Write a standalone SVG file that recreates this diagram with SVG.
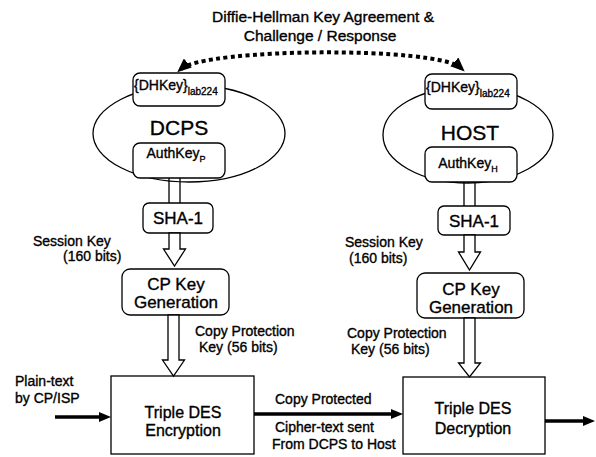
<svg xmlns="http://www.w3.org/2000/svg" width="596" height="457" viewBox="0 0 596 457">
  <style>
    text { font-family: "Liberation Sans", Arial, sans-serif; fill: #000; stroke: #000; stroke-width: 0.35; }
    .big { font-size: 21px; }
    .box { font-size: 17px; }
    .des { font-size: 16px; }
    .key { font-size: 14px; }
    .lbl { font-size: 14px; }
    .title { font-size: 15.5px; }
    .shape { fill: #fff; stroke: #000; stroke-width: 1.3; }
    .pipe { fill: none; stroke: #000; stroke-width: 1.3; }
    .hollow { fill: #fff; stroke: #000; stroke-width: 1.3; stroke-linejoin: miter; }
    .flow { fill: none; stroke: #000; stroke-width: 3.5; }
    .dots { fill: none; stroke: #000; stroke-width: 4; stroke-dasharray: 4 3.4; }
  </style>
  <defs>
    <marker id="solid" markerUnits="userSpaceOnUse" markerWidth="12" markerHeight="10" refX="4" refY="5" orient="auto">
      <path d="M0,0 L12,5 L0,10 z" fill="#000"/>
    </marker>
    <marker id="dotHead" markerUnits="userSpaceOnUse" markerWidth="14" markerHeight="12" refX="9" refY="6" orient="auto-start-reverse">
      <path d="M0,0 L14,6 L0,12 z" fill="#000"/>
    </marker>
  </defs>

  <!-- heading -->
  <g id="heading">
    <text class="title" x="323" y="22" text-anchor="middle">Diffie-Hellman Key Agreement &amp;</text>
    <text class="title" x="320" y="41" text-anchor="middle">Challenge / Response</text>
  </g>

  <!-- DCPS side -->
  <g id="dcps">
    <ellipse class="shape" cx="189" cy="133.5" rx="96" ry="48.5"/>
    <text class="big" x="179" y="135" text-anchor="middle">DCPS</text>
  </g>
  <g id="dcps-dhkey">
    <rect class="shape" x="133" y="73" width="92" height="33" rx="7"/>
    <text class="key" x="134" y="90">{DHKey}<tspan font-size="10" dy="5">lab224</tspan></text>
  </g>
  <g id="dcps-authkey">
    <rect class="shape" x="133" y="143" width="92" height="35" rx="7"/>
    <text class="key" x="176" y="158" text-anchor="middle">AuthKey<tspan font-size="9" dy="4">P</tspan></text>
  </g>
  <g id="dcps-sha1">
    <rect class="shape" x="143" y="203" width="70" height="30" rx="6"/>
    <text class="box" x="178" y="224" text-anchor="middle">SHA-1</text>
  </g>
  <g id="dcps-cpkey">
    <rect class="shape" x="122" y="269" width="107" height="46" rx="8"/>
    <text class="box" x="176" y="290" text-anchor="middle">CP Key</text>
    <text class="box" x="176" y="308" text-anchor="middle">Generation</text>
  </g>
  <g id="encryption">
    <rect class="shape" x="111" y="376" width="143" height="78"/>
    <text class="des" x="183" y="418" text-anchor="middle">Triple DES</text>
    <text class="des" x="183" y="436" text-anchor="middle">Encryption</text>
  </g>

  <!-- HOST side -->
  <g id="host">
    <ellipse class="shape" cx="468" cy="135" rx="85" ry="48"/>
    <text class="big" x="470" y="140" text-anchor="middle">HOST</text>
  </g>
  <g id="host-dhkey">
    <rect class="shape" x="425" y="74" width="92" height="35" rx="7"/>
    <text class="key" x="426" y="92">{DHKey}<tspan font-size="10" dy="5">lab224</tspan></text>
  </g>
  <g id="host-authkey">
    <rect class="shape" x="425" y="147" width="92" height="35" rx="7"/>
    <text class="key" x="468" y="168" text-anchor="middle">AuthKey<tspan font-size="9" dy="4">H</tspan></text>
  </g>
  <g id="host-sha1">
    <rect class="shape" x="438" y="206" width="72" height="29" rx="6"/>
    <text class="box" x="474" y="227" text-anchor="middle">SHA-1</text>
  </g>
  <g id="host-cpkey">
    <rect class="shape" x="417" y="273" width="107" height="45" rx="8"/>
    <text class="box" x="471" y="295" text-anchor="middle">CP Key</text>
    <text class="box" x="471" y="313" text-anchor="middle">Generation</text>
  </g>
  <g id="decryption">
    <rect class="shape" x="403" y="377" width="142" height="77"/>
    <text class="des" x="473" y="414" text-anchor="middle">Triple DES</text>
    <text class="des" x="473" y="434" text-anchor="middle">Decryption</text>
  </g>

  <!-- connectors -->
  <g id="connectors">
    <!-- key agreement exchange -->
    <path class="dots" d="M181,69 C205,48 437,46 461,68" marker-start="url(#dotHead)" marker-end="url(#dotHead)"/>

    <!-- DCPS key pipeline -->
    <path class="pipe" d="M169,178 V203 M180,178 V203"/>
    <polygon class="hollow" points="169,233 169,249 163.5,249 174.5,266 185.5,249 180,249 180,233"/>
    <polygon class="hollow" points="168,315 168,360 162.5,360 173.5,376 184.5,360 179,360 179,315"/>

    <!-- HOST key pipeline -->
    <path class="pipe" d="M464,182 V206 M475,182 V206"/>
    <polygon class="hollow" points="464,235 464,252 458.5,252 469.5,270 480.5,252 475,252 475,235"/>
    <polygon class="hollow" points="464,318 464,363 458.5,363 469.5,377 480.5,363 475,363 475,318"/>

    <!-- data path -->
    <line class="flow" x1="55" y1="417" x2="103" y2="417" marker-end="url(#solid)"/>
    <line class="flow" x1="254" y1="414" x2="395" y2="414" marker-end="url(#solid)"/>
    <line class="flow" x1="545" y1="421" x2="587" y2="421" marker-end="url(#solid)"/>
  </g>

  <!-- labels -->
  <g id="labels">
    <text class="lbl" x="33" y="246">Session Key</text>
    <text class="lbl" x="63" y="261">(160 bits)</text>
    <text class="lbl" x="345" y="247">Session Key</text>
    <text class="lbl" x="349" y="263">(160 bits)</text>
    <text class="lbl" x="195" y="336">Copy Protection</text>
    <text class="lbl" x="199" y="352">Key (56 bits)</text>
    <text class="lbl" x="347" y="338">Copy Protection</text>
    <text class="lbl" x="351" y="354">Key (56 bits)</text>
    <text class="lbl" x="15" y="386">Plain-text</text>
    <text class="lbl" x="15" y="403">by CP/ISP</text>
    <text class="lbl" x="275" y="404">Copy Protected</text>
    <text class="lbl" x="275" y="432">Cipher-text sent</text>
    <text class="lbl" x="272" y="449">From DCPS to Host</text>
  </g>
</svg>
